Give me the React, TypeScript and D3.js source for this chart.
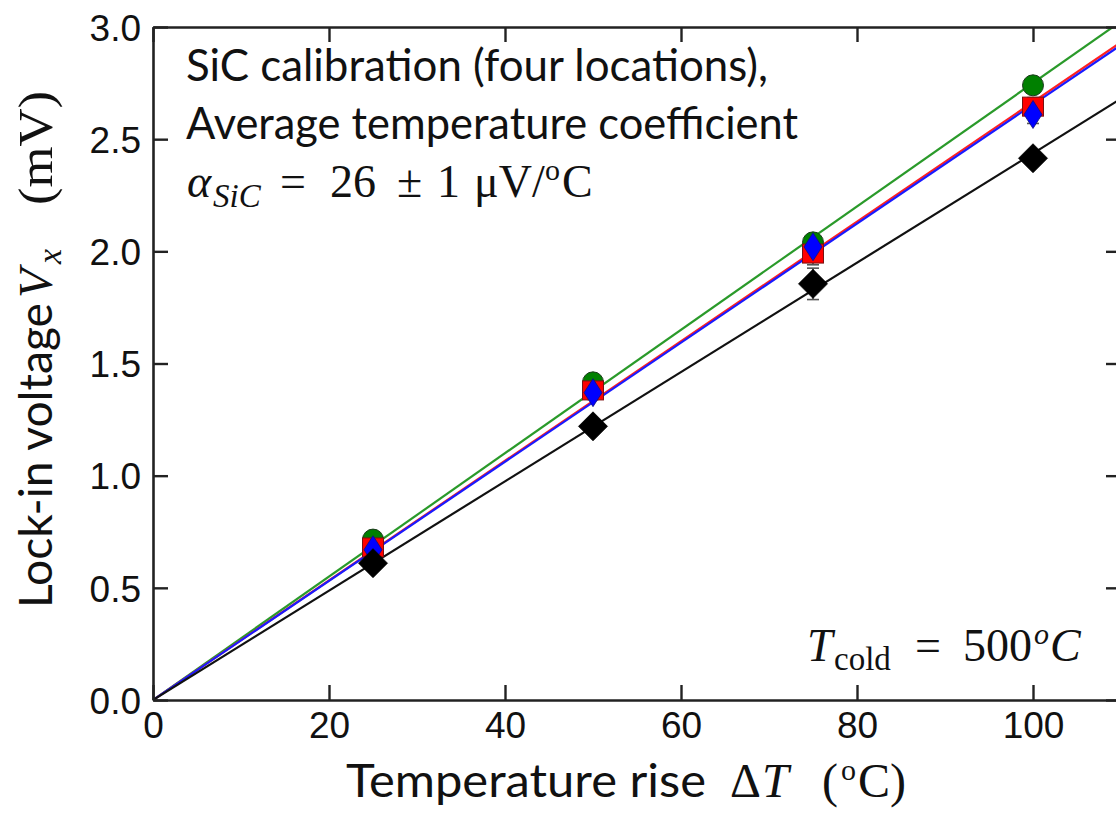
import React, { useEffect, useRef } from "react";
import * as d3 from "d3";

// Temperature rise steps (°C)
const deltaT = [25, 50, 75, 100];

// Lock-in voltage (mV) at each of the four calibration locations
const greenVals = [0.715, 1.416, 2.04, 2.74];
const redVals = [0.68, 1.38, 1.99, 2.645];
const blueVals = [0.67, 1.37, 2.02, 2.61];
const blackVals = [0.61, 1.22, 1.855, 2.415];

// Standard deviation of the readings (mV)
const greenErr = [0.02, 0.02, 0.03, 0.03];
const redErr = [0.03, 0.03, 0.05, 0.04];
const blueErr = [0.03, 0.03, 0.04, 0.04];
const blackErr = [0.03, 0.03, 0.07, 0.03];

const xTicks = [0, 20, 40, 60, 80, 100];
const yTicks = [0, 0.5, 1.0, 1.5, 2.0, 2.5, 3.0];

const W = 1116;
const H = 814;
const LEFT = 153;
const RIGHT = 1121;
const TOP = 27;
const BOTTOM = 700;

const SANS = "Lato, 'Open Sans', sans-serif";
const SERIF = "'Liberation Serif', 'DejaVu Serif', serif";
const TICK_FONT = "'Liberation Sans', Arial, sans-serif";
const INK = "#111";

type Series = {
  vals: number[];
  err: number[];
  line: string;
  shape: "circle" | "square" | "diamond" | "bigdiamond";
  fill: string;
  stroke: string;
};

const series: Series[] = [
  { vals: greenVals, err: greenErr, line: "#2a9a2a", shape: "circle", fill: "#008000", stroke: "#1a3a1a" },
  { vals: redVals, err: redErr, line: "#ff2020", shape: "square", fill: "#ff0000", stroke: "#7a1010" },
  { vals: blueVals, err: blueErr, line: "#1a1aff", shape: "diamond", fill: "#0000ff", stroke: "#10107a" },
  { vals: blackVals, err: blackErr, line: "#111111", shape: "bigdiamond", fill: "#000000", stroke: "#000000" },
];

// Least-squares slope of a fit forced through the origin
function originSlope(xs: number[], ys: number[]) {
  const sxy = d3.sum(xs, (x, i) => x * ys[i]);
  const sxx = d3.sum(xs, (x) => x * x);
  return sxy / sxx;
}

export default function App() {
  const ref = useRef<SVGGElement | null>(null);

  useEffect(() => {
    const root = d3.select(ref.current);
    root.selectAll("*").remove();

    const x = d3.scaleLinear().domain([0, 110]).range([LEFT, RIGHT]);
    const y = d3.scaleLinear().domain([0, 3]).range([BOTTOM, TOP]);

    root
      .append("defs")
      .append("clipPath")
      .attr("id", "plotClip")
      .append("rect")
      .attr("x", LEFT)
      .attr("y", TOP)
      .attr("width", RIGHT - LEFT)
      .attr("height", BOTTOM - TOP);

    const plot = root.append("g").attr("clip-path", "url(#plotClip)");

    // Fit lines
    series.forEach((s) => {
      const k = originSlope(deltaT, s.vals);
      const pts: [number, number][] = [
        [0, 0],
        [110, 110 * k],
      ];
      plot
        .append("path")
        .attr("d", d3.line<[number, number]>().x((d) => x(d[0])).y((d) => y(d[1]))(pts))
        .attr("fill", "none")
        .attr("stroke", s.line)
        .attr("stroke-width", 2.2);
    });

    // Error bars
    series.forEach((s) => {
      const g = plot.append("g").attr("stroke", "#555").attr("stroke-width", 1.6);
      deltaT.forEach((t, i) => {
        const cx = x(t);
        const y1 = y(s.vals[i] - s.err[i]);
        const y2 = y(s.vals[i] + s.err[i]);
        g.append("line").attr("x1", cx).attr("x2", cx).attr("y1", y1).attr("y2", y2);
        g.append("line").attr("x1", cx - 6).attr("x2", cx + 6).attr("y1", y1).attr("y2", y1);
        g.append("line").attr("x1", cx - 6).attr("x2", cx + 6).attr("y1", y2).attr("y2", y2);
      });
    });

    // Markers
    series.forEach((s) => {
      const g = plot.append("g");
      deltaT.forEach((t, i) => {
        const cx = x(t);
        const cy = y(s.vals[i]);
        if (s.shape === "circle") {
          g.append("circle").attr("cx", cx).attr("cy", cy).attr("r", 10.5)
            .attr("fill", s.fill).attr("stroke", s.stroke).attr("stroke-width", 1);
        } else if (s.shape === "square") {
          g.append("rect").attr("x", cx - 10.5).attr("y", cy - 9.5).attr("width", 21).attr("height", 19)
            .attr("fill", s.fill).attr("stroke", s.stroke).attr("stroke-width", 1);
        } else if (s.shape === "diamond") {
          g.append("path")
            .attr("d", `M${cx},${cy - 14}L${cx + 9},${cy}L${cx},${cy + 14}L${cx - 9},${cy}Z`)
            .attr("fill", s.fill).attr("stroke", s.stroke).attr("stroke-width", 0.8);
        } else {
          g.append("path")
            .attr("d", `M${cx},${cy - 14.5}L${cx + 14.5},${cy}L${cx},${cy + 14.5}L${cx - 14.5},${cy}Z`)
            .attr("fill", s.fill).attr("stroke", s.stroke).attr("stroke-width", 0.8);
        }
      });
    });

    // Axes with inward ticks on all four sides
    const styleAxis = (g: d3.Selection<SVGGElement, unknown, null, undefined>) => {
      g.selectAll(".domain").attr("stroke", "#222").attr("stroke-width", 2.6);
      g.selectAll(".tick line").attr("stroke", "#222").attr("stroke-width", 2.4);
      g.selectAll(".tick text")
        .attr("fill", INK)
        .style("font-family", TICK_FONT)
        .style("font-size", "37px");
    };

    root.append("g")
      .attr("transform", `translate(0,${BOTTOM})`)
      .call(d3.axisBottom(x).tickValues(xTicks).tickFormat(d3.format("d")).tickSize(-15).tickSizeOuter(0).tickPadding(12))
      .call(styleAxis);

    root.append("g")
      .attr("transform", `translate(0,${TOP})`)
      .call(d3.axisTop(x).tickValues(xTicks).tickFormat(() => "").tickSize(-15).tickSizeOuter(0))
      .call(styleAxis);

    root.append("g")
      .attr("transform", `translate(${LEFT},0)`)
      .call(d3.axisLeft(y).tickValues(yTicks).tickFormat(d3.format(".1f")).tickSize(-15).tickSizeOuter(0).tickPadding(12))
      .call(styleAxis)
      .call((g) => g.selectAll(".tick text").attr("dy", "0.36em"));

    root.append("g")
      .attr("transform", `translate(${RIGHT},0)`)
      .call(d3.axisRight(y).tickValues(yTicks).tickFormat(() => "").tickSize(-15).tickSizeOuter(0))
      .call(styleAxis);
  }, []);

  return (
    <svg
      width={W}
      height={H}
      viewBox={`0 0 ${W} ${H}`}
      style={{ position: "absolute", left: 0, top: 0, background: "#fff" }}
    >
      <g ref={ref} />

      {/* Annotation block, upper left */}
      <g fill={INK}>
        <text x={186} y={81} fontFamily={SANS} fontSize={45} textLength={582} lengthAdjust="spacingAndGlyphs">
          SiC calibration (four locations),
        </text>
        <text x={186} y={139} fontFamily={SANS} fontSize={45} textLength={612} lengthAdjust="spacingAndGlyphs">
          Average temperature coefficient
        </text>
        <g fontFamily={SERIF} fontSize={46}>
          <text x={187} y={197} fontStyle="italic">α</text>
          <text x={213} y={207} fontStyle="italic" fontSize={33}>SiC</text>
          <text x={280} y={197}>=</text>
          <text x={330} y={197}>26</text>
          <text x={397} y={197}>±</text>
          <text x={437} y={197}>1</text>
          <text x={474} y={197}>μV/</text>
          <text x={545} y={180} fontSize={30}>o</text>
          <text x={562} y={197}>C</text>
        </g>
      </g>

      {/* Operating point annotation, lower right */}
      <g fontFamily={SERIF} fontSize={46} fill={INK}>
        <text x={807} y={661} fontStyle="italic">T</text>
        <text x={834} y={670} fontSize={33}>cold</text>
        <text x={915} y={661}>=</text>
        <text x={963} y={661}>500</text>
        <text x={1034} y={644} fontStyle="italic" fontSize={30}>o</text>
        <text x={1050} y={661} fontStyle="italic">C</text>
      </g>

      {/* x-axis title */}
      <g fill={INK}>
        <text x={346} y={797} fontFamily={SANS} fontSize={47} textLength={360} lengthAdjust="spacingAndGlyphs">
          Temperature rise
        </text>
        <g fontFamily={SERIF} fontSize={48}>
          <text x={730} y={797}>Δ</text>
          <text x={762} y={797} fontStyle="italic">T</text>
          <text x={822} y={797}>(</text>
          <text x={841} y={780} fontSize={30}>o</text>
          <text x={858} y={797}>C)</text>
        </g>
      </g>

      {/* y-axis title, reading bottom to top */}
      <g transform="translate(52,0) rotate(-90)" fill={INK}>
        <text x={-608} y={0} fontFamily={SANS} fontSize={47} textLength={305} lengthAdjust="spacingAndGlyphs">
          Lock-in voltage
        </text>
        <g fontFamily={SERIF} fontSize={48}>
          <text x={-298} y={0} fontStyle="italic">V</text>
          <text x={-264} y={9} fontStyle="italic" fontSize={34}>x</text>
          <text x={-205} y={0} textLength={114} lengthAdjust="spacingAndGlyphs">(mV)</text>
        </g>
      </g>
    </svg>
  );
}
